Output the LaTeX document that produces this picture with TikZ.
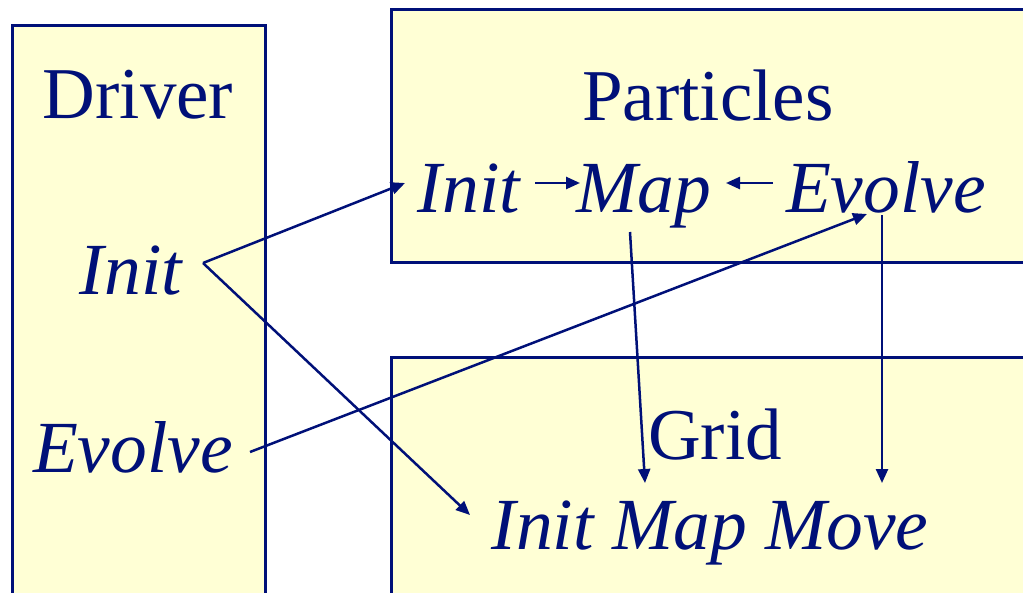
\documentclass[tikz,border=0pt]{standalone}
\usepackage{fontspec}
\setmainfont{Liberation Serif}
\usetikzlibrary{arrows.meta}
\definecolor{navy}{RGB}{0,16,120}
\definecolor{boxfill}{RGB}{255,255,213}
\begin{document}
\begin{tikzpicture}[x=1pt,y=-1pt,
  panel/.style={draw=navy,fill=boxfill,line width=3pt},
  lbl/.style={text=navy,inner sep=0pt,anchor=base,font=\fontsize{73}{80}\selectfont},
  ilbl/.style={lbl,font=\fontsize{73.5}{80}\selectfont\itshape},
  conn/.style={draw=navy,line width=2.5pt,-{Triangle[length=14pt,width=12pt]}}]
\useasboundingbox (0,0) rectangle (1023,592);
\path[panel] (12,25) rectangle (265,600);
\path[panel] (391,9) rectangle (1030,262);
\path[panel] (391,357) rectangle (1030,600);
\node[lbl] (driver) at (138,118) {Driver};
\node[lbl] (particles) at (708,120) {Particles};
\node[lbl] (grid) at (715,459) {Grid};
\node[ilbl] (dinit) at (131,294) {Init};
\node[ilbl] (devolve) at (133,472) {Evolve};
\node[ilbl] (pinit) at (469,212) {Init};
\node[ilbl] (pmap) at (644,212) {Map};
\node[ilbl] (pevolve) at (886,212) {Evolve};
\node[ilbl] (gops) at (710,549) {Init Map Move};
\coordinate (s1) at (203,263);
\coordinate (t1) at (405,183);
\coordinate (t2) at (470,515);
\coordinate (s3) at (250,452);
\coordinate (t3) at (867,214);
\coordinate (a4) at (535,183);
\coordinate (b4) at (580,183);
\coordinate (a5) at (773,183);
\coordinate (b5) at (726,183);
\coordinate (a6) at (630,232);
\coordinate (b6) at (645,483);
\coordinate (a7) at (882,215);
\coordinate (b7) at (882,483);
\draw[conn] (s1) -- (t1);
\draw[conn] (s1) -- (t2);
\draw[conn] (s3) -- (t3);
\draw[conn] (a4) -- (b4);
\draw[conn] (a5) -- (b5);
\draw[conn] (a6) -- (b6);
\draw[conn] (a7) -- (b7);
\end{tikzpicture}
\end{document}
